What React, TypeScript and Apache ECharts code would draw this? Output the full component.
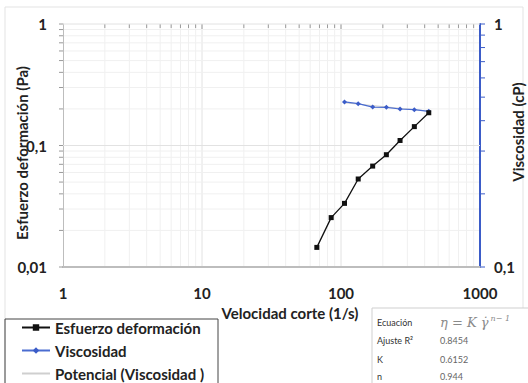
import React, { useEffect, useRef } from "react";
import * as echarts from "echarts";

// Shear rate (1/s)
const shearRate = [67, 85, 106, 133, 169, 212, 266, 337, 428];
// Shear stress (Pa)
const shearStress = [0.0145, 0.0255, 0.0334, 0.053, 0.0677, 0.084, 0.11, 0.143, 0.186];
// Viscosity (cP), measured from the third shear rate onward
const viscRate = [106, 133, 169, 212, 266, 337, 428];
const viscosity = [0.478, 0.47, 0.455, 0.454, 0.447, 0.444, 0.437];
// Power-law fit end points (Potencial)
const fitRate = [106, 428];
const fitVisc = [0.474, 0.438];

const xTicks = [1, 10, 100, 1000];
const xMinor = [2, 3, 4, 5, 6, 7, 8, 9, 20, 30, 40, 50, 60, 70, 80, 90, 200, 300, 400, 500, 600, 700, 800, 900];
const yLeftMinor = [0.02, 0.03, 0.04, 0.05, 0.06, 0.07, 0.08, 0.09, 0.2, 0.3, 0.4, 0.5, 0.6, 0.7, 0.8, 0.9];
const yLeftMajor = [0.01, 0.1, 1];
const yRightMinor = [0.2, 0.3, 0.4, 0.5, 0.6, 0.7, 0.8, 0.9];

const fitRows = [
  ["Ajuste R\u00b2", "0.8454"],
  ["K", "0.6152"],
  ["n", "0.944"],
];

const FONT = "Lato, 'Noto Sans', sans-serif";
const BLUE = "#3b5cc8";
const comma = (v: number) => String(v).replace(".", ",");

export default function App() {
  const ref = useRef<HTMLDivElement>(null);

  useEffect(() => {
    if (!ref.current) return;
    const chart = echarts.init(ref.current, null, { renderer: "svg" });

    const vLine = (color: string, full: boolean, len = 4) => (params: any, api: any) => {
      const cs = params.coordSys;
      const p = api.coord([api.value(0), 0.1]);
      const y1 = full ? cs.y + cs.height : cs.y + len;
      return {
        type: "line",
        shape: { x1: p[0], y1: cs.y, x2: p[0], y2: y1 },
        style: { stroke: color, lineWidth: 1 },
        silent: true,
      };
    };
    const hLine = (color: string, mode: "grid" | "left" | "right") => (params: any, api: any) => {
      const cs = params.coordSys;
      const p = api.coord([1, api.value(1)]);
      let x1 = cs.x, x2 = cs.x + cs.width;
      if (mode === "left") { x1 = cs.x - 4; x2 = cs.x; }
      if (mode === "right") { x1 = cs.x + cs.width; x2 = cs.x + cs.width + 5; }
      return {
        type: "line",
        shape: { x1, y1: p[1], x2, y2: p[1] },
        style: { stroke: color, lineWidth: 1 },
        silent: true,
      };
    };

    const tableX = 372;
    const tableY = 308;
    const rowY = [322, 340, 359, 376];
    const labelStyle = {
      fontFamily: FONT,
      fontWeight: "bold",
      fontSize: 15,
      color: "#222",
    };

    chart.setOption({
      animation: false,
      backgroundColor: "#ffffff",
      grid: { left: 63, top: 24, right: 48, bottom: 116 },
      xAxis: {
        type: "log",
        logBase: 10,
        min: 1,
        max: 1000,
        axisLine: { show: true, lineStyle: { color: "#bdbdbd", width: 2 } },
        axisTick: { show: false },
        splitLine: { show: false },
        axisLabel: {
          ...labelStyle,
          margin: 18,
          formatter: (v: number) => (xTicks.includes(v) ? String(v) : ""),
        },
      },
      yAxis: [
        {
          type: "log",
          logBase: 10,
          min: 0.01,
          max: 1,
          axisLine: { show: true, lineStyle: { color: "#bdbdbd", width: 1 } },
          axisTick: { show: false },
          splitLine: { show: false },
          axisLabel: { ...labelStyle, margin: 16, formatter: (v: number) => comma(v) },
        },
        {
          type: "log",
          logBase: 10,
          min: 0.1,
          max: 1,
          position: "right",
          axisLine: { show: true, lineStyle: { color: BLUE, width: 2 } },
          axisTick: { show: false },
          splitLine: { show: false },
          axisLabel: { ...labelStyle, margin: 14, formatter: (v: number) => comma(v) },
        },
      ],
      legend: {
        orient: "vertical",
        left: 5,
        top: 319,
        height: 140,
        padding: [1, 14, 4, 16],
        borderColor: "#444",
        borderWidth: 1,
        itemWidth: 28,
        itemHeight: 8,
        itemGap: 8,
        textStyle: { fontFamily: FONT, fontWeight: "bold", fontSize: 15, color: "#222", lineHeight: 15 },
        data: [
          { name: "Esfuerzo deformación" },
          { name: "Viscosidad" },
          { name: "Potencial (Viscosidad )", itemStyle: { opacity: 0 } },
        ],
      },
      graphic: [
        {
          type: "rect",
          shape: { x: 5, y: 7, width: 518, height: 400 },
          style: { fill: "none", stroke: "#e3e3e3", lineWidth: 1 },
          silent: true,
          z: -10,
        },
        {
          type: "text",
          x: 22,
          y: 153,
          rotation: Math.PI / 2,
          style: {
            text: "Esfuerzo deformación (Pa)",
            align: "center",
            verticalAlign: "middle",
            font: `bold 15px ${FONT}`,
            fill: "#222",
          },
        },
        {
          type: "text",
          x: 518,
          y: 132,
          rotation: Math.PI / 2,
          style: {
            text: "Viscosidad (cP)",
            align: "center",
            verticalAlign: "middle",
            font: `bold 15px ${FONT}`,
            fill: "#222",
          },
        },
        {
          type: "text",
          x: 290,
          y: 313,
          style: {
            text: "Velocidad corte (1/s)",
            align: "center",
            verticalAlign: "middle",
            font: `bold 15px ${FONT}`,
            fill: "#222",
          },
        },
        {
          type: "rect",
          shape: { x: tableX, y: tableY, width: 170, height: 90 },
          style: { fill: "#fff", stroke: "#cfcfcf", lineWidth: 1 },
          silent: true,
        },
        {
          type: "text",
          x: tableX + 5,
          y: rowY[0],
          style: {
            text: "Ecuación",
            verticalAlign: "middle",
            font: `9px ${FONT}`,
            fill: "#333",
          },
        },
        {
          type: "text",
          x: tableX + 68,
          y: rowY[0],
          style: {
            text: "{m|\u03b7 = K \u03b3\u0307}{s|n\u2212 1}",
            verticalAlign: "middle",
            rich: {
              m: { font: "italic 13px 'DejaVu Serif', serif", fill: "#8a8a8a" },
              s: { font: "italic 8px 'DejaVu Serif', serif", fill: "#8a8a8a", padding: [0, 0, 8, 2] },
            },
          },
        },
        ...fitRows.flatMap((r, i) => [
          {
            type: "text",
            x: tableX + 5,
            y: rowY[i + 1],
            style: { text: r[0], verticalAlign: "middle", font: `9px ${FONT}`, fill: "#333" },
          },
          {
            type: "text",
            x: tableX + 68,
            y: rowY[i + 1],
            style: { text: r[1], verticalAlign: "middle", font: `9px ${FONT}`, fill: "#666" },
          },
        ]),
      ],
      series: [
        {
          type: "custom",
          name: "xgrid",
          silent: true,
          z: 0,
          data: xMinor.map((v) => [v, 0.1]),
          renderItem: vLine("#f0f0f0", true),
        },
        {
          type: "custom",
          name: "xgridmajor",
          silent: true,
          z: 0,
          data: [10, 100].map((v) => [v, 0.1]),
          renderItem: vLine("#e2e2e2", true),
        },
        {
          type: "custom",
          name: "xtopticks",
          silent: true,
          z: 1,
          data: xMinor.map((v) => [v, 0.1]),
          renderItem: vLine("#9a9a9a", false, 4),
        },
        {
          type: "custom",
          name: "xtopmajor",
          silent: true,
          z: 1,
          data: [10, 100].map((v) => [v, 0.1]),
          renderItem: vLine("#9a9a9a", false, 5),
        },
        {
          type: "custom",
          name: "ygrid",
          silent: true,
          z: 0,
          data: yLeftMinor.map((v) => [1, v]),
          renderItem: hLine("#f0f0f0", "grid"),
        },
        {
          type: "custom",
          name: "ygridmajor",
          silent: true,
          z: 1,
          data: [0.1, 1].map((v) => [1, v]),
          renderItem: hLine("#e2e2e2", "grid"),
        },
        {
          type: "custom",
          name: "yleftticks",
          silent: true,
          z: 1,
          data: yLeftMinor.concat(yLeftMajor).map((v) => [1, v]),
          renderItem: hLine("#9a9a9a", "left"),
        },
        {
          type: "custom",
          name: "yrightticks",
          yAxisIndex: 1,
          silent: true,
          z: 1,
          data: yRightMinor.concat([0.1, 1]).map((v) => [1, v]),
          renderItem: hLine(BLUE, "right"),
        },
        {
          type: "line",
          name: "Potencial (Viscosidad )",
          yAxisIndex: 1,
          z: 2,
          symbol: "none",
          lineStyle: { color: "#cfcfcf", width: 1 },
          itemStyle: { color: "#cfcfcf" },
          data: fitRate.map((x, i) => [x, fitVisc[i]]),
        },
        {
          type: "line",
          name: "Viscosidad",
          yAxisIndex: 1,
          z: 3,
          symbol: "diamond",
          symbolSize: 5,
          lineStyle: { color: "#4a6cd0", width: 1.2 },
          itemStyle: { color: "#3b5cc8" },
          data: viscRate.map((x, i) => [x, viscosity[i]]),
        },
        {
          type: "line",
          name: "Esfuerzo deformación",
          z: 4,
          symbol: "rect",
          symbolSize: 5,
          lineStyle: { color: "#111", width: 1.3 },
          itemStyle: { color: "#111" },
          data: shearRate.map((x, i) => [x, shearStress[i]]),
        },
      ],
    });

    return () => chart.dispose();
  }, []);

  return <div ref={ref} style={{ width: 528, height: 383, position: "absolute", left: 0, top: 0 }} />;
}
